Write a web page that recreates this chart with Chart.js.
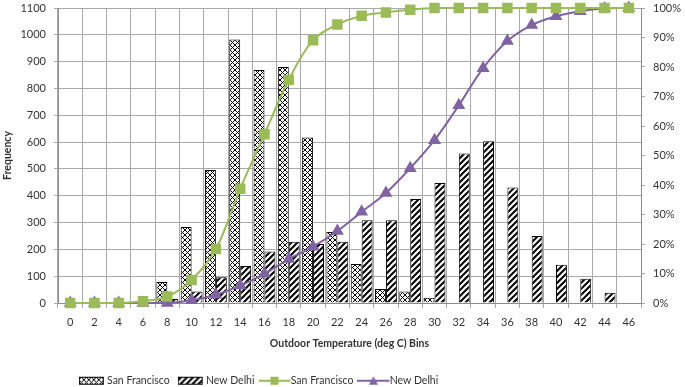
<!DOCTYPE html>
<html lang="en">
<head>
  <meta charset="UTF-8">
  <title>Outdoor Temperature Bins - San Francisco vs New Delhi</title>
  <script src="https://cdn.jsdelivr.net/npm/chart.js@4.4.1/dist/chart.umd.min.js"></script>
  <style>
    html, body { margin: 0; padding: 0; background: #fff; }
    #wrap { width: 685px; height: 387px; }
  </style>
</head>
<body>
  <div id="wrap"><canvas id="chart" width="685" height="387"></canvas></div>
  <script>
    // Temperature bins (deg C)
    const bins = ['0', '2', '4', '6', '8', '10', '12', '14', '16', '18', '20', '22',
                  '24', '26', '28', '30', '32', '34', '36', '38', '40', '42', '44', '46'];

    // Frequency per bin
    const sfFreq    = [0, 0, 0, 0, 78, 283, 496, 983, 869, 880, 617, 265,
                       145, 52, 43, 20, 0, 0, 0, 0, 0, 0, 0, 0];
    const delhiFreq = [0, 0, 0, 0, 15, 43, 96, 138, 192, 228, 220, 228,
                       309, 309, 388, 447, 557, 603, 431, 250, 143, 90, 38, 0];

    // Cumulative share (%)
    const sfCum    = [0, 0, 0, 0.6, 2.2, 7.8, 18.3, 38.7, 57.2, 75.7, 89.1, 94.4,
                      97.4, 98.5, 99.4, 100, 100, 100, 100, 100, 100, 100, 100, 100];
    const delhiCum = [0, 0, 0, 0, 0, 0.9, 2.8, 5.9, 9.9, 14.9, 19.1, 24.4,
                      30.9, 37.3, 45.7, 55.2, 67.0, 79.6, 88.8, 94.2, 97.2, 98.9, 99.8, 100];

    const GREEN = '#9bbb59';
    const PURPLE = '#8064a2';
    const GRID = '#a9a9a9';
    const TEXT = '#333333';
    const FONT = 'Lato, "Open Sans", "DejaVu Sans", sans-serif';
    const LEGEND_PAD = 11;

    // Hatch patterns for the bars
    function makePattern(ctx, kind) {
      const s = kind === 'cross' ? 5 : 6;
      const c = document.createElement('canvas');
      c.width = s; c.height = s;
      const p = c.getContext('2d');
      p.fillStyle = '#fff';
      p.fillRect(0, 0, s, s);
      p.strokeStyle = '#000';
      p.lineWidth = kind === 'cross' ? 1 : 2;
      p.beginPath();
      // "/" lines
      p.moveTo(-1, 1); p.lineTo(1, -1);
      p.moveTo(0, s); p.lineTo(s, 0);
      p.moveTo(s - 1, s + 1); p.lineTo(s + 1, s - 1);
      if (kind === 'cross') {
        // "\" lines
        p.moveTo(0, 0); p.lineTo(s, s);
        p.moveTo(-1, s - 1); p.lineTo(1, s + 1);
        p.moveTo(s - 1, -1); p.lineTo(s + 1, 1);
      }
      p.stroke();
      return ctx.createPattern(c, 'repeat');
    }

    const canvas = document.getElementById('chart');
    const ctx = canvas.getContext('2d');
    const crossFill = makePattern(ctx, 'cross');
    const stripeFill = makePattern(ctx, 'stripe');

    // Legend icons (pattern boxes and line-with-marker).
    // The legend slot is 20px wide; icons overhang it a little so the text sits close.
    const SLOT_W = 20;
    function boxIcon(kind) {
      const c = document.createElement('canvas');
      c.width = 26; c.height = 12;
      const g = c.getContext('2d');
      g.fillStyle = makePattern(g, kind);
      g.fillRect(0, 2, 25, 8);
      g.strokeStyle = '#000';
      g.lineWidth = 1;
      g.strokeRect(0.5, 2.5, 24, 7);
      return c;
    }
    function lineIcon(color, marker) {
      const c = document.createElement('canvas');
      c.width = 34; c.height = 12;
      const g = c.getContext('2d');
      const m = 16;
      g.strokeStyle = color;
      g.lineWidth = 2;
      g.beginPath(); g.moveTo(0, 6); g.lineTo(32, 6); g.stroke();
      g.fillStyle = color;
      g.beginPath();
      if (marker === 'rect') {
        g.rect(m - 4, 2, 8, 8);
      } else {
        g.moveTo(m, 1.5); g.lineTo(m + 4.5, 10); g.lineTo(m - 4.5, 10); g.closePath();
      }
      g.fill();
      return c;
    }
    const legendIcons = [boxIcon('cross'), boxIcon('stripe'), lineIcon(GREEN, 'rect'), lineIcon(PURPLE, 'triangle')];

    // Move the legend to where it sits in the original (left of centre, row at y~381)
    const legendPlace = {
      id: 'legendPlace',
      afterLayout(chart) {
        const lg = chart.legend;
        const h = lg.bottom - lg.top;
        lg.left = 0; lg.right = 520;
        lg.top = 381 - LEGEND_PAD - 5.5;
        lg.bottom = lg.top + h;
      }
    };

    // keep the plot area flush with the top tick label like the original
    function trimPad(s) {
      s.paddingTop = 2;
      s.paddingBottom = 0;
    }

    new Chart(ctx, {
      type: 'bar',
      data: {
        labels: bins,
        datasets: [
          {
            label: 'San Francisco',
            data: sfFreq,
            backgroundColor: crossFill,
            borderColor: '#000',
            borderWidth: 1,
            categoryPercentage: 0.9,
            barPercentage: 1.0,
            yAxisID: 'y',
            order: 2
          },
          {
            label: 'New Delhi',
            data: delhiFreq,
            backgroundColor: stripeFill,
            borderColor: '#000',
            borderWidth: 1,
            categoryPercentage: 0.9,
            barPercentage: 1.0,
            yAxisID: 'y',
            order: 2
          },
          {
            type: 'line',
            label: 'San Francisco',
            data: sfCum,
            borderColor: GREEN,
            backgroundColor: GREEN,
            borderWidth: 2,
            pointStyle: 'rect',
            pointRadius: 6,
            tension: 0.35,
            clip: false,
            yAxisID: 'y1',
            order: 1
          },
          {
            type: 'line',
            label: 'New Delhi',
            data: delhiCum,
            borderColor: PURPLE,
            backgroundColor: PURPLE,
            borderWidth: 2,
            pointStyle: 'triangle',
            pointRadius: 5.5,
            tension: 0.35,
            clip: false,
            yAxisID: 'y1',
            order: 1
          }
        ]
      },
      options: {
        responsive: false,
        animation: false,
        layout: { padding: { top: 0, left: 0, right: 0, bottom: 0 } },
        plugins: {
          tooltip: { enabled: false },
          legend: {
            position: 'bottom',
            labels: {
              usePointStyle: true,
              pointStyleWidth: SLOT_W,
              padding: LEGEND_PAD,
              color: TEXT,
              font: { family: FONT, size: 10.5 },
              generateLabels(chart) {
                return chart.data.datasets.map((ds, i) => ({
                  text: ds.label,
                  datasetIndex: i,
                  pointStyle: legendIcons[i],
                  fillStyle: '#fff',
                  strokeStyle: '#000',
                  lineWidth: 0,
                  hidden: false,
                  fontColor: TEXT
                }));
              }
            }
          }
        },
        scales: {
          x: {
            offset: true,
            grid: { offset: true, color: GRID, tickLength: 5, tickColor: GRID },
            border: { color: '#8c8c8c' },
            ticks: { autoSkip: false, maxRotation: 0, padding: 8, color: TEXT, font: { family: FONT, size: 11 } },
            title: {
              display: true,
              text: 'Outdoor Temperature (deg C) Bins',
              color: TEXT,
              font: { family: FONT, size: 10.5, weight: 'bold' },
              padding: { top: 0, bottom: 6 }
            },
            afterFit(s) { s.height = 387 - 303 - s.chart.legend.height; }
          },
          y: {
            position: 'left',
            min: 0,
            max: 1100,
            ticks: { stepSize: 100, padding: 8, color: TEXT, font: { family: FONT, size: 11 },
                     callback: v => String(v) },
            grid: { color: GRID, tickLength: 4, tickColor: GRID },
            border: { color: '#8c8c8c' },
            title: {
              display: true,
              text: 'Frequency',
              color: TEXT,
              font: { family: FONT, size: 10.5, weight: 'bold' },
              padding: { top: 1, bottom: 0 }
            },
            afterFit(s) { s.width = 58; trimPad(s); }
          },
          y1: {
            position: 'right',
            min: 0,
            max: 100,
            ticks: { stepSize: 10, padding: 8, color: TEXT, font: { family: FONT, size: 11 },
                     callback: v => v + '%' },
            grid: { drawOnChartArea: false, tickLength: 4, color: GRID, tickColor: GRID },
            border: { color: '#8c8c8c' },
            afterFit(s) { s.width = 44; trimPad(s); }
          }
        }
      },
      plugins: [legendPlace]
    });
  </script>
</body>
</html>
